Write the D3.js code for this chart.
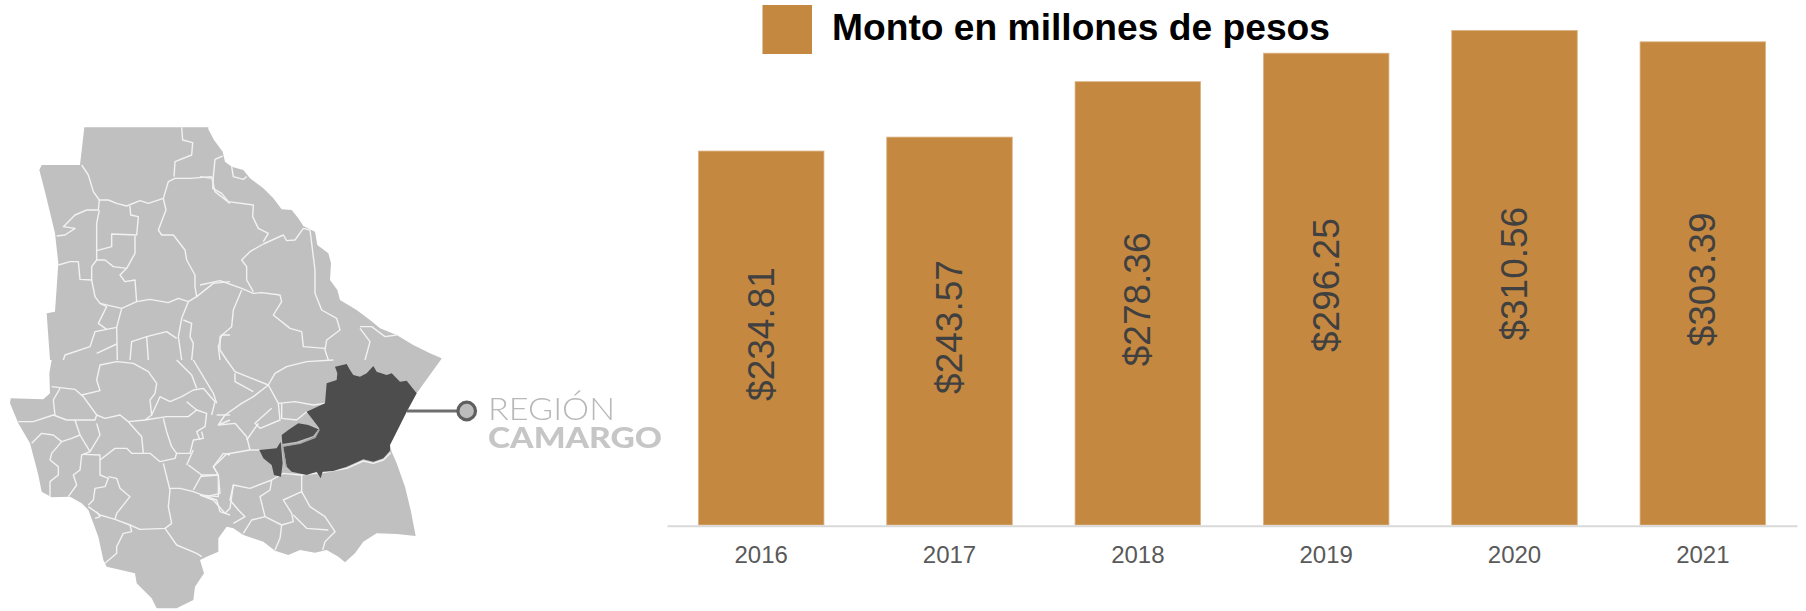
<!DOCTYPE html>
<html><head><meta charset="utf-8">
<style>html,body{margin:0;padding:0;background:#fff}svg{display:block}</style>
<script src="https://cdn.jsdelivr.net/npm/d3@7/dist/d3.min.js"></script>
</head><body><svg id="c" width="1806" height="611"></svg>
<script>
const years=["2016","2017","2018","2019","2020","2021"];
const amounts=[234.81,243.57,278.36,296.25,310.56,303.39];
const valueLabels=["$234.81","$243.57","$278.36","$296.25","$310.56","$303.39"];
const legendLabel="Monto en millones de pesos";
const regionLabels=["REGIÓN","CAMARGO"];

// Map tracing, in each crop's own units (one crop per quadrant of the map)
const outlineNW=[[253,22],[400,22],[625,22]];
const outlineNE=[[25,28],[42,60],[68,95],[75,125],[95,140],[130,150],[150,175],[190,205],[220,235],[245,268],[275,270],[295,295],[310,318],[345,335],[352,375],[385,400],[393,430],[390,480],[412,510],[420,540],[470,570],[510,600],[540,625],[590,645],[640,675],[690,700],[725,715]];
const outlineSE=[[722,0],[650,100],[620,155],[570,255],[575,275],[590,310],[615,380],[632,450],[647,528],[590,522],[530,520],[490,545],[465,580],[435,607],[415,590],[380,570],[345,578],[300,570],[265,585],[225,572],[190,545],[130,525],[100,505],[80,500],[55,535],[55,575],[20,590],[0,600]];
const outlineSW=[[612,640],[585,680],[580,720],[530,745],[470,745],[455,715],[410,670],[405,640],[320,620],[310,600],[295,530],[265,450],[245,430],[210,410],[155,412],[125,395],[115,345],[90,250],[55,190],[30,130],[32,115],[130,118],[150,100],[148,40],[155,0]];
const outlineNW2=[[150,720],[140,580],[165,575],[175,430],[165,340],[135,215],[118,150],[125,135],[240,135]];
const regionMain=[[405,20],[440,12],[450,30],[460,45],[480,50],[500,40],[520,18],[530,35],[560,45],[575,40],[600,65],[620,62],[650,100],[620,155],[570,255],[570,272],[550,295],[520,305],[490,298],[440,320],[400,333],[368,335],[362,355],[350,335],[320,345],[275,335],[260,320],[250,260],[300,250],[345,230],[358,205],[335,175],[320,155],[375,130],[380,70],[410,60],[412,40]];
const regionSmall=[[245,225],[265,210],[295,190],[325,195],[355,208],[340,228],[290,245],[247,252]];
const regionWest=[[178,270],[230,265],[242,245],[248,310],[243,350],[222,345],[215,315],[190,295]];
const regionSeams=[[[250,258],[300,250],[345,232],[358,208]],[[245,250],[258,320]]];
const bordersNW=[
[[545,22],[548,60],[578,68],[575,105],[525,125],[522,170]],
[[522,175],[570,175],[635,170]],
[[245,135],[265,165],[280,215],[298,240],[325,240],[350,250],[380,258],[420,242],[445,250],[490,235],[505,185],[525,175]],
[[298,240],[295,270],[260,270],[225,285],[190,320],[225,325],[195,345],[170,348]],
[[298,270],[290,310],[290,420]],
[[390,258],[392,285],[415,290],[410,345],[335,342],[335,380],[290,392]],
[[405,348],[405,400],[380,445],[340,440],[315,420],[290,420],[275,440],[275,480],[240,478],[235,425],[210,425],[175,435]],
[[380,445],[360,465],[375,485],[405,480],[410,545],[450,538],[505,548],[535,535],[565,545],[590,530]],
[[275,480],[285,530],[300,550],[320,560],[295,610],[320,628],[350,622],[365,565],[410,545]],
[[300,550],[365,565]],
[[490,235],[498,270],[475,330],[485,345],[520,345],[555,390],[560,420],[585,465],[585,500],[590,530],[640,490],[690,485]],
[[320,628],[285,635],[270,680],[195,705],[190,720]],
[[350,622],[352,720]],
[[350,672],[290,700]],
[[565,545],[545,595],[535,650],[545,720]],
[[550,600],[575,610],[570,650],[580,670],[575,720]],
[[390,720],[395,665],[440,650],[500,635],[530,655]],
[[440,650],[445,720]],
[[660,720],[655,680],[665,645],[690,645]],
[[635,170],[645,215],[690,250]]];
const bordersNE=[
[[68,108],[45,118],[40,170],[38,205],[65,220],[85,245],[160,255],[158,290],[175,325],[205,340],[190,365]],
[[0,170],[35,175]],
[[190,372],[250,345],[260,362],[285,360],[310,325],[330,330],[345,450],[345,520],[365,570],[410,595],[420,630],[380,660],[375,690],[385,720]],
[[190,372],[150,395],[125,420],[140,440],[140,480],[160,515]],
[[0,495],[60,482],[125,505],[160,520],[185,518],[240,525],[245,545],[220,585],[270,625],[305,635],[310,680],[375,685]],
[[125,510],[100,570],[95,620],[60,650],[60,690],[80,720]],
[[95,140],[100,170],[130,178],[140,170]],
[[480,620],[515,620],[555,650],[590,645]],
[[480,625],[510,665],[495,720]]];
const bordersSW=[
[[155,80],[225,88],[250,110],[290,165],[285,180],[225,180],[200,180],[160,165],[100,185],[55,185]],
[[245,105],[300,92],[290,60],[300,15],[350,5],[400,10],[445,35],[470,70],[465,100],[450,120],[455,165],[435,180],[385,185],[360,165],[315,175],[290,165]],
[[165,165],[160,120],[180,85]],
[[225,180],[240,225],[215,235],[185,245],[160,225],[125,220],[95,250]],
[[240,225],[270,275],[300,225],[290,190]],
[[185,245],[155,280],[150,300],[175,320],[175,345],[150,365],[150,410]],
[[270,275],[245,285],[240,330],[220,345],[230,375],[205,410]],
[[250,283],[300,285],[300,345],[325,355],[315,380],[285,385],[280,420],[265,435]],
[[300,300],[345,265],[380,265],[395,280],[450,280],[480,305],[525,295],[530,280],[570,280],[580,240],[610,235],[605,215]],
[[385,185],[425,230],[430,280]],
[[325,350],[350,355],[360,385],[390,410],[350,460],[345,478]],
[[265,440],[300,465],[345,478],[390,495],[420,508],[495,505],[515,490],[505,440],[510,390],[490,310]],
[[390,495],[395,515],[370,520],[350,560],[350,580],[315,610]],
[[495,505],[530,555],[590,580],[605,590]],
[[510,385],[540,385],[580,395],[620,410],[650,420],[660,455],[690,465]],
[[565,315],[605,345],[580,390]],
[[605,345],[655,345],[660,400],[620,410]],
[[560,315],[580,270]],
[[455,165],[480,110],[510,125],[545,110],[580,90],[610,85],[645,125],[635,165]],
[[530,0],[575,45],[590,85]],
[[580,0],[640,100],[650,130]],
[[490,175],[500,215],[515,260],[530,280]],
[[435,180],[500,170],[565,170],[590,150]],
[[560,125],[590,150],[620,160],[615,200],[590,215],[600,240]],
[[650,165],[690,165]],
[[655,195],[690,180]],
[[285,475],[300,470],[290,455]],
[[655,345],[640,320],[670,280],[690,285]]];
const bordersSE=[
[[80,0],[105,35],[155,55],[205,75],[225,40],[260,20],[320,5],[400,0]],
[[205,75],[160,110],[125,130],[75,165],[55,195],[105,190],[140,230]],
[[105,40],[105,65],[160,95]],
[[205,75],[235,130],[240,180],[180,205],[165,190],[215,145]],
[[235,130],[285,125],[340,135],[375,130]],
[[245,130],[245,175],[290,180],[320,155]],
[[140,230],[150,270],[80,282],[40,320],[55,345],[0,350]],
[[150,270],[178,270]],
[[140,240],[175,190]],
[[55,345],[55,410],[0,405]],
[[0,405],[40,420],[75,460],[90,445],[100,375],[150,385],[215,360],[250,340],[300,345]],
[[100,375],[90,420],[115,450],[135,470],[100,490]],
[[215,360],[210,390],[180,410],[195,470],[245,495],[240,535],[225,570]],
[[130,520],[155,480],[195,470]],
[[245,495],[280,485],[275,460],[250,420],[305,395],[330,440],[375,470],[405,515],[375,545],[368,570]],
[[305,345],[305,395]],
[[280,465],[320,505],[385,510]],
[[300,345],[368,338],[440,325],[490,303],[520,310],[550,300],[572,278]]];

const svg=d3.select("#c");
const defs=svg.append("defs");
defs.append("filter").attr("id","soft").attr("x","-5%").attr("y","-5%").attr("width","110%").attr("height","110%")
  .append("feGaussianBlur").attr("stdDeviation",0.6);

// One scale pair per traced crop (crops are drawn at three times full size)
const crop=(left,top,w,h)=>({x:d3.scaleLinear([0,w*3],[left,left+w]),y:d3.scaleLinear([0,h*3],[top,top+h])});
const NW=crop(0,120,230,240),NE=crop(200,120,250,240),SW=crop(0,360,230,251),SE=crop(200,360,250,251);
const place=(pts,c)=>pts.map(p=>[c.x(p[0]),c.y(p[1])]);
const polyGen=d3.line();

const map=svg.append("g").attr("filter","url(#soft)");
const outline=[...place(outlineNW,NW),...place(outlineNE,NE),...place(outlineSE,SE),...place(outlineSW,SW),...place(outlineNW2,NW)];
map.append("path").attr("d",polyGen(outline)+"Z").attr("fill","#c0c0c0");
const borderGroups=[[bordersNW,NW],[bordersNE,NE],[bordersSW,SW],[bordersSE,SE]];
borderGroups.forEach(([set,c])=>{
  map.selectAll(null).data(set).enter().append("path")
    .attr("d",d=>polyGen(place(d,c))).attr("fill","none")
    .attr("stroke","#f2f2f2").attr("stroke-width",1.4).attr("stroke-linejoin","round");
});
[regionMain,regionSmall,regionWest].forEach(r=>{
  map.append("path").attr("d",polyGen(place(r,SE))+"Z").attr("fill","#4d4d4d");
});
regionSeams.forEach(s=>{
  map.append("path").attr("d",polyGen(place(s,SE))).attr("fill","none").attr("stroke","#a9a9a9").attr("stroke-width",1.4);
});

// Callout
const callout=svg.append("g").attr("filter","url(#soft)");
callout.append("line").attr("x1",407).attr("x2",458).attr("y1",411).attr("y2",411).attr("stroke","#6e6e6e").attr("stroke-width",3);
callout.append("circle").attr("cx",466.7).attr("cy",411).attr("r",8.8).attr("fill","#bdbdbd").attr("stroke","#5f5f5f").attr("stroke-width",3.2);
callout.append("text").attr("x",488).attr("y",420).text(regionLabels[0])
  .attr("font-family","Lato").attr("font-weight",300).attr("font-size",31).attr("fill","#b8b8b8")
  .attr("textLength",127).attr("lengthAdjust","spacingAndGlyphs");
callout.append("text").attr("x",488).attr("y",448).text(regionLabels[1])
  .attr("font-family","Lato").attr("font-weight",900).attr("font-size",29).attr("fill","#c6c6c6")
  .attr("textLength",174).attr("lengthAdjust","spacingAndGlyphs");

// Chart
const barFill="#c58840";
const x=d3.scaleBand().domain(years).range([667,1797]).paddingInner(1/3).paddingOuter(1/6);
const y=d3.scaleLinear().domain([0,330]).range([525,525-1.5926*330]);
svg.selectAll(".bar").data(amounts).enter().append("rect").attr("class","bar")
  .attr("x",(d,i)=>x(years[i])).attr("width",x.bandwidth())
  .attr("y",d=>y(d)).attr("height",d=>y(0)-y(d))
  .attr("fill",barFill).attr("stroke","#dcb587").attr("stroke-width",0.8);

const axis=svg.append("g").attr("transform",`translate(0,${y(0)+0.7})`)
  .call(d3.axisBottom(x).tickSize(0).tickPadding(20));
axis.select(".domain").attr("stroke","#d9d9d9").attr("stroke-width",2);
axis.selectAll("text").attr("font-family","Liberation Sans").attr("font-size",24).attr("fill","#595959");

svg.selectAll(".val").data(amounts).enter().append("text").attr("class","val")
  .attr("transform",(d,i)=>`translate(${x(years[i])+x.bandwidth()/2+12.5},${(y(d)+y(0))/2-4}) rotate(-90)`)
  .attr("text-anchor","middle").attr("font-family","Liberation Sans").attr("font-size",37).attr("fill","#404040")
  .text((d,i)=>valueLabels[i]);

// Legend
svg.append("rect").attr("x",762.5).attr("y",5).attr("width",49.5).attr("height",49).attr("fill",barFill);
svg.append("text").attr("x",832).attr("y",40).text(legendLabel)
  .attr("font-family","Liberation Sans").attr("font-weight",700).attr("font-size",37).attr("fill","#000")
  .attr("textLength",498).attr("lengthAdjust","spacingAndGlyphs");
</script></body></html>
